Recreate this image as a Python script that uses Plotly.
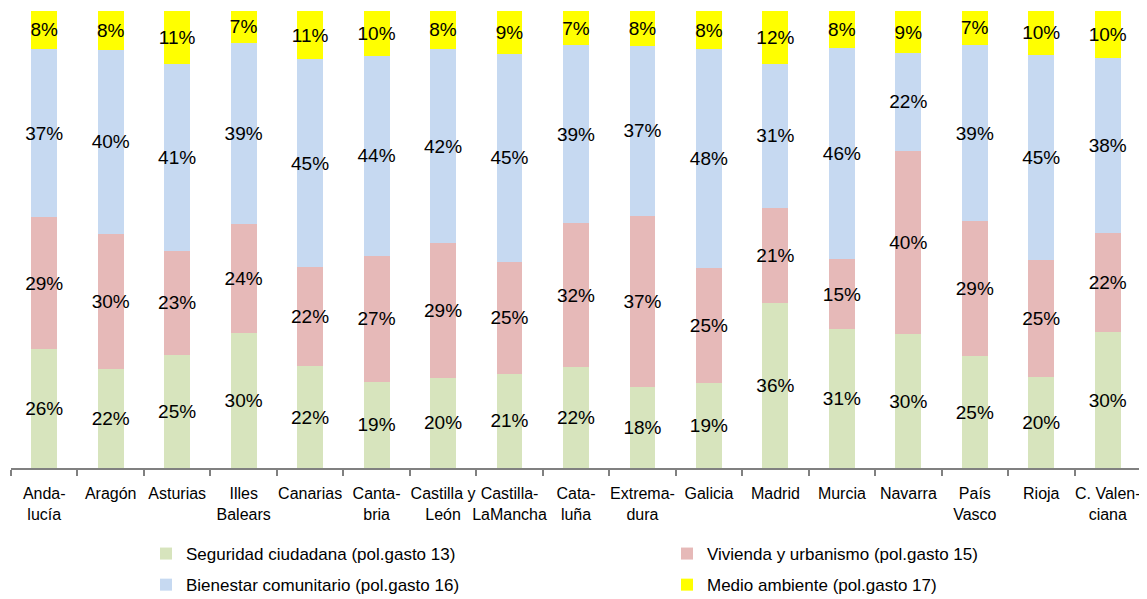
import plotly.graph_objects as go

regions = ["Anda-<br>lucía", "Aragón", "Asturias", "Illes<br>Balears", "Canarias",
           "Canta-<br>bria", "Castilla y<br>León", "Castilla-<br>LaMancha", "Cata-<br>luña",
           "Extrema-<br>dura", "Galicia", "Madrid", "Murcia", "Navarra", "País<br>Vasco",
           "Rioja", "C. Valen-<br>ciana"]

# shares (%)
seguridad = [26.0, 21.7, 24.8, 29.6, 22.3, 18.9, 19.8, 20.6, 22.0, 17.7, 18.6, 36.2, 30.4, 29.3, 24.5, 19.9, 29.7]
vivienda = [28.9, 29.5, 22.7, 23.9, 21.7, 27.5, 29.4, 24.5, 31.6, 37.5, 25.2, 20.7, 15.3, 40.0, 29.5, 25.6, 21.8]
bienestar = [36.7, 40.3, 41.0, 39.5, 45.4, 43.8, 42.4, 45.6, 38.9, 37.2, 47.9, 31.6, 46.3, 21.6, 38.6, 44.9, 38.3]
medio = [8.5, 8.5, 11.5, 7.1, 10.5, 9.8, 8.5, 9.3, 7.4, 7.6, 8.2, 11.5, 7.9, 9.0, 7.4, 9.6, 10.2]

# labels as printed on the chart
seguridad_lbl = [26, 22, 25, 30, 22, 19, 20, 21, 22, 18, 19, 36, 31, 30, 25, 20, 30]
vivienda_lbl = [29, 30, 23, 24, 22, 27, 29, 25, 32, 37, 25, 21, 15, 40, 29, 25, 22]
bienestar_lbl = [37, 40, 41, 39, 45, 44, 42, 45, 39, 37, 48, 31, 46, 22, 39, 45, 38]
medio_lbl = [8, 8, 11, 7, 11, 10, 8, 9, 7, 8, 8, 12, 8, 9, 7, 10, 10]

series = [
    ("Seguridad ciudadana (pol.gasto 13)", seguridad, seguridad_lbl, "#D7E4BD", "legend"),
    ("Vivienda y urbanismo (pol.gasto 15)", vivienda, vivienda_lbl, "#E6B9B8", "legend2"),
    ("Bienestar comunitario (pol.gasto 16)", bienestar, bienestar_lbl, "#C6D9F1", "legend"),
    ("Medio ambiente (pol.gasto 17)", medio, medio_lbl, "#FFFF00", "legend2"),
]

FONT = "Liberation Sans, Arial, sans-serif"

# the page body adds an 8px offset, so the figure is sized to the visible window
W, H = 1139, 591

fig = go.Figure()
for name, vals, lbls, color, leg in series:
    fig.add_trace(go.Bar(
        x=regions, y=vals, name=name, legend=leg, legendgroup=name,
        marker=dict(color=color, line=dict(width=0)),
        text=[f"{v}%" for v in lbls],
        textposition="inside", insidetextanchor="middle",
        constraintext="none", textangle=0,
        textfont=dict(family=FONT, size=19, color="black"),
        width=0.39, hoverinfo="skip",
    ))

legend_common = dict(orientation="v", xref="container", yref="container",
                     xanchor="left", yanchor="top", y=1 - 528 / H,
                     font=dict(family=FONT, size=17, color="black"),
                     traceorder="grouped", tracegroupgap=6, itemwidth=30,
                     bgcolor="rgba(0,0,0,0)", borderwidth=0)

fig.update_layout(
    barmode="stack",
    width=W, height=H,
    margin=dict(l=3, r=6, t=3, b=131, autoexpand=False),
    paper_bgcolor="white", plot_bgcolor="white",
    font=dict(family=FONT, size=16, color="black"),
    showlegend=True,
    legend=dict(x=138 / W, **legend_common),
    legend2=dict(x=659 / W, **legend_common),
    xaxis=dict(showline=True, linecolor="#808080", linewidth=2,
               ticks="outside", tickson="boundaries", ticklen=6, tickcolor="#808080",
               tickwidth=1.5, tickangle=0, ticklabelstandoff=10,
               tickfont=dict(family=FONT, size=16, color="black"),
               showgrid=False, zeroline=False, fixedrange=True),
    yaxis=dict(range=[0, 100], showticklabels=False, showgrid=False, zeroline=False,
               showline=False, ticks="", fixedrange=True),
)

fig.write_html("out.html")
